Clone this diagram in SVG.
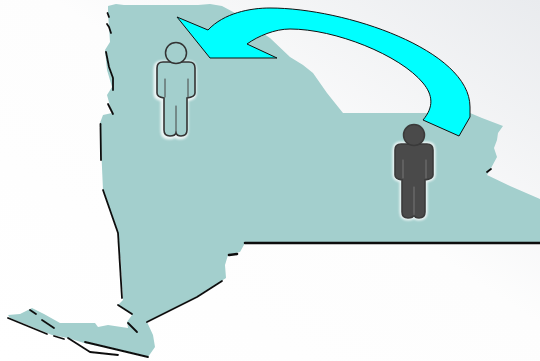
<svg xmlns="http://www.w3.org/2000/svg" width="540" height="361" viewBox="0 0 540 361">
<style>
.shadow{fill:none;stroke:#111;stroke-width:1.800;stroke-linecap:round;stroke-linejoin:round}
.halo{fill:none;stroke:#fff;stroke-width:5;stroke-linejoin:round;opacity:.8}
.arrow{fill:#0ff;stroke:#111;stroke-width:1;stroke-linejoin:miter}
.inner{fill:none;stroke-width:1;stroke-linecap:round}
</style>
<defs>
<linearGradient id="bg" x1="0" y1="1" x2="1" y2="0">
<stop offset="0" stop-color="#fff"/><stop offset=".55" stop-color="#fdfdfd"/><stop offset="1" stop-color="#e9ebee"/>
</linearGradient>
<filter id="soft" x="-5%" y="-5%" width="110%" height="110%"><feGaussianBlur stdDeviation=".6"/></filter>
<filter id="halo-blur" x="-20%" y="-20%" width="140%" height="140%"><feGaussianBlur stdDeviation="1"/></filter>
<g id="body-shape">
<path d="M163 62H189Q195 62 195 68V93Q195 97 187 98V130Q187 136 181 136Q177 136 176 133Q175 136 170 136Q164 136 164 130V98Q157 97 157 93V68Q157 62 163 62Z"/>
</g>
</defs>
<rect width="540" height="361" fill="url(#bg)"/>
<g id="state">
<path filter="url(#soft)" fill="#a3cfcd" d="M108 6L116 4L124 5L198 5L210 4L222 6L235 13L252 26L270 38L290 57L303 65L313 73L327 93L343 113H423L470 113L482 118L503 126L498 133L497 140L494 148L497 157L490 170L487 175L510 186L540 199V242L245 243L240 252L228 255L225 265L226 278L197 297L147 322L153 335L155 347L148 357L117 350L84 343L68 338L52 335L30 326L10 318L8 315L20 314L32 308L44 314L60 323L95 323L98 327L108 325L128 328L127 322L132 315L118 305L123 300L121 265L118 233L103 190L100 123L103 115L112 113L107 95L112 87L107 70L105 50L110 42L108 13Z"/>
<g class="shadow" filter="url(#soft)">
<path d="M107.500 13L109 17M107 24L109 27L111 33M106 52L109 67L113 78L113 90M108 104L113 114"/>
<path d="M100.500 124L101 160"/>
<path d="M103 190L118 233L122 298"/>
<path d="M118 305L132 314M128 323L137 332"/>
<path d="M147 322L197 297L222 281"/>
<path d="M229 255L237 254M245 243H540" stroke-width="2.600"/>
<path d="M8 318L47 334M54 336L64 339M68 338L90 352L118 355M85 342L148 357"/>
<path d="M30 310L36 314M42 320L54 328"/>
<path d="M487 172L491 169"/>
</g>
</g>
<g id="connectors">
<path class="arrow" d="M177 17L208 30C224 13 250 8 270 8C345 8 470 50 470 107V117L459 136L423 120C434 107 433 95 423 83C400 55 335 29 290 29C275 29 258 36 247 44L277 58H210Z"/>
</g>
<g id="person-light">
<use href="#body-shape" class="halo" filter="url(#halo-blur)" transform="translate(-1 1)"/>
<use href="#body-shape" fill="#a3cfcd" stroke="#333" stroke-width="1.600"/>
<circle cx="176" cy="53" r="10.500" fill="#a3cfcd" stroke="#333" stroke-width="1.500"/>
<path class="inner" stroke="#444" d="M165 79V97M188 79V97M176 106V133"/>
</g>
<g id="person-dark">
<use href="#body-shape" class="halo" filter="url(#halo-blur)" transform="translate(238 82)"/>
<use href="#body-shape" fill="#4a4a4a" stroke="#3a3a3a" stroke-width="1.600" transform="translate(238 82)"/>
<circle cx="414" cy="135" r="10.500" fill="#4a4a4a" stroke="#3a3a3a" stroke-width="1.500"/>
<path class="inner" stroke="#777" d="M403 160V178M426 160V178M414 187V215"/>
</g>
</svg>
